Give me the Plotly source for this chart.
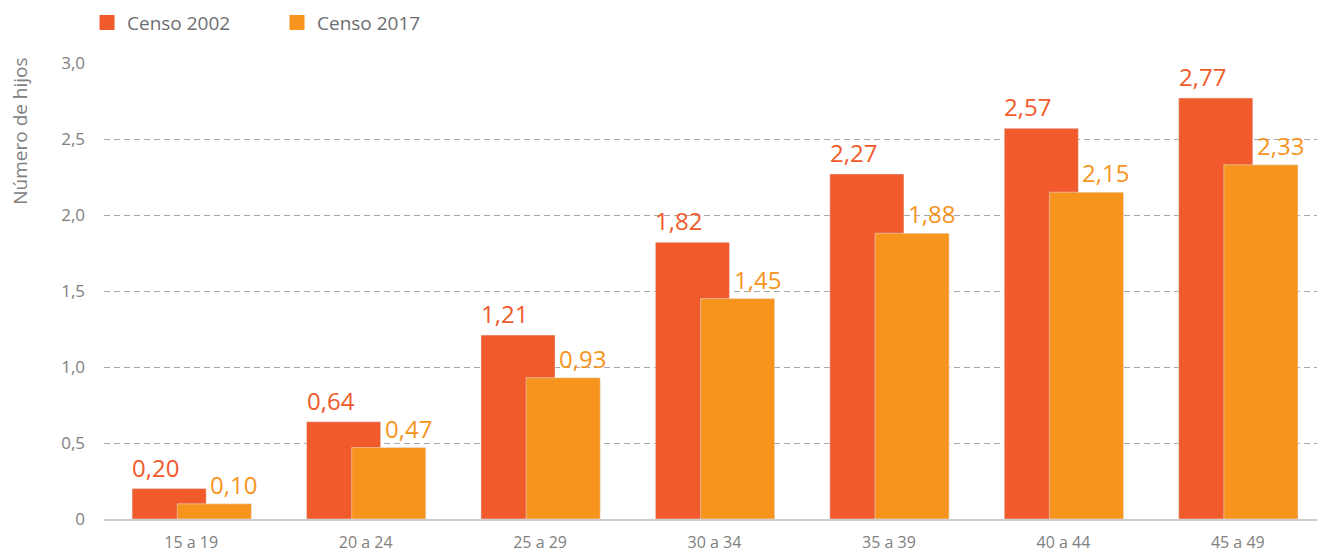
import plotly.graph_objects as go

grupos = ["15 a 19", "20 a 24", "25 a 29", "30 a 34", "35 a 39", "40 a 44", "45 a 49"]
censo_2002 = [0.20, 0.64, 1.21, 1.82, 2.27, 2.57, 2.77]
censo_2017 = [0.10, 0.47, 0.93, 1.45, 1.88, 2.15, 2.33]
y_ticks = [0, 0.5, 1.0, 1.5, 2.0, 2.5, 3.0]
y_tick_text = ["0", "0,5", "1,0", "1,5", "2,0", "2,5", "3,0"]

ROJO = "#F15A2B"
NARANJA = "#F7941E"
GRIS = "#808080"
FUENTE = "Open Sans"

# bars overlap: widths/offsets in category units
ANCHO = 0.425
OFF_02 = -0.339
OFF_17 = -0.080


def fmt(v):
    return f"{v:.2f}".replace(".", ",")


fig = go.Figure()
fig.add_trace(go.Bar(x=grupos, y=censo_2002, name="Censo 2002", marker_color=ROJO,
                     width=ANCHO, offset=OFF_02, showlegend=False))
fig.add_trace(go.Bar(x=grupos, y=censo_2017, name="Censo 2017", marker_color=NARANJA,
                     width=ANCHO, offset=OFF_17, showlegend=False))

# legend entries with bigger square markers
for nombre, color in [("Censo 2002", ROJO), ("Censo 2017", NARANJA)]:
    fig.add_trace(go.Scatter(x=[None], y=[None], mode="markers", name=nombre,
                             marker=dict(symbol="square", size=15, color=color)))

anotaciones = []
for i, (a, b) in enumerate(zip(censo_2002, censo_2017)):
    anotaciones.append(dict(x=i + OFF_02, y=a, text=fmt(a), xanchor="left", yanchor="bottom",
                            showarrow=False, yshift=3, xshift=-2,
                            font=dict(size=24, color=ROJO, family=FUENTE)))
    anotaciones.append(dict(x=i + OFF_02 + ANCHO, y=b, text=fmt(b), xanchor="left", yanchor="bottom",
                            showarrow=False, yshift=1, xshift=2,
                            font=dict(size=24, color=NARANJA, family=FUENTE)))

anotaciones.append(dict(xref="paper", yref="paper", x=-0.069, y=0.85, text="Número de hijos",
                        textangle=-90, showarrow=False, xanchor="center", yanchor="middle",
                        font=dict(size=19, color=GRIS, family=FUENTE)))

fig.update_layout(
    width=1317, height=552,
    margin=dict(l=104, r=0, t=63, b=33, autoexpand=False),
    plot_bgcolor="white", paper_bgcolor="white",
    barmode="overlay",
    font=dict(family=FUENTE, color=GRIS),
    annotations=anotaciones,
    legend=dict(orientation="h", x=-0.014, y=1.13, xanchor="left", yanchor="top",
                font=dict(size=19, color="#6d6e71"), entrywidth=145, entrywidthmode="pixels",
                bgcolor="rgba(0,0,0,0)"),
    xaxis=dict(range=[-0.5, 6.454], autorange=False, showgrid=False, zeroline=False, showline=True,
               linecolor="#cccccc", linewidth=2, ticklabelstandoff=8, automargin=False,
               tickfont=dict(size=16, color=GRIS)),
    yaxis=dict(range=[0, 3.0], tickvals=y_ticks, ticktext=y_tick_text, showgrid=True,
               gridcolor="#a8a8a8", griddash="6px,4px", gridwidth=1, zeroline=False,
               ticklabelstandoff=18, automargin=False, tickfont=dict(size=17, color=GRIS)),
)

# drop the page's default body margin and scrollbars so the figure sits at the corner
fig.write_html("out.html", config={"displayModeBar": False, "responsive": False},
               post_script="document.body.style.margin='0';document.body.style.overflow='hidden';")
